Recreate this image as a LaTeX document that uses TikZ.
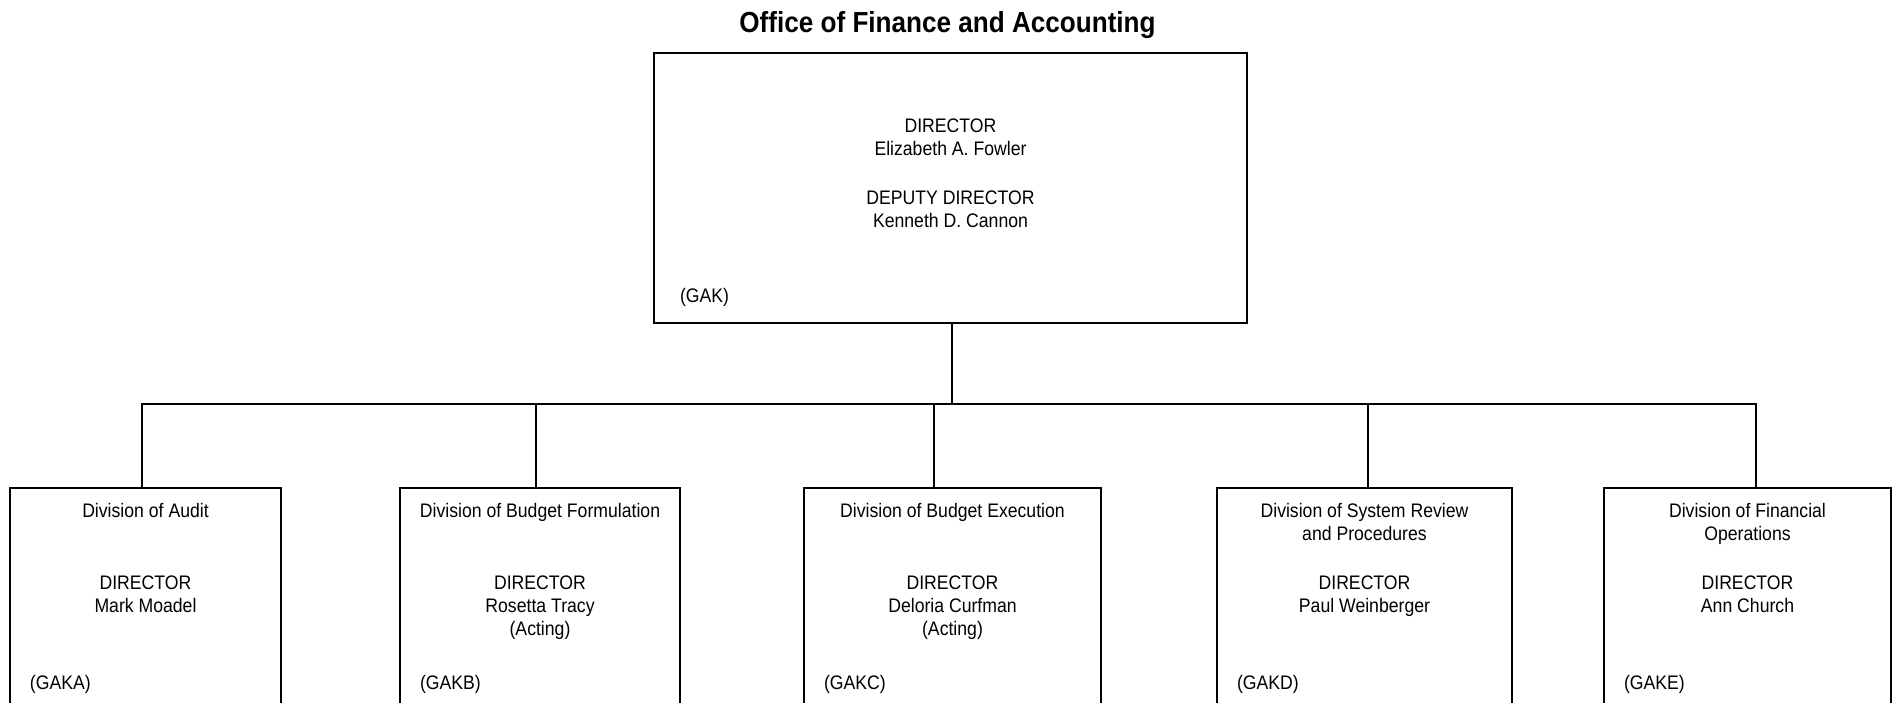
\documentclass[tikz,border=0pt]{standalone}
\usepackage{fontspec}
\setmainfont{Liberation Sans}[FakeStretch=0.9]
\usetikzlibrary{positioning,calc}

\begin{document}
\begin{tikzpicture}[
            x=0.5pt, y=0.5pt,
            every node/.style={inner sep=0pt, outer sep=0pt, font=\fontsize{9.8}{11.5}\selectfont},
            OfficeBlock/.style={draw, line width=1.1pt, minimum width=296.5pt, minimum height=135pt, anchor=north west},
            DivisionBlock/.style={draw, line width=1.1pt, minimum height=122pt, anchor=north west},
            TitleText/.style={font=\fontsize{14.5}{17}\selectfont\bfseries, anchor=base},
            HeadText/.style={align=center, anchor=north},
            CodeText/.style={anchor=base west},
            OrgLine/.style={line width=1.1pt},
            ]
            \useasboundingbox (0,0) rectangle (1897,702);

            % office
            \node [OfficeBlock] (off) at (654,649) {};
            \node [TitleText] (title) at ([xshift=-1.5pt, yshift=10pt]off.north) {Office of Finance and Accounting};
            \node [HeadText, below=33pt of off.north] (offdir) {DIRECTOR\\Elizabeth A. Fowler\\[13pt]DEPUTY DIRECTOR\\Kenneth D. Cannon};
            \node [CodeText] (offcode) at ([shift={(13pt,10pt)}]off.south west) {(GAK)};

            % divisions
            \node [DivisionBlock, minimum width=135.5pt] (divA) at (10,214) {};
            \node [DivisionBlock, minimum width=140pt] (divB) at (400,214) {};
            \node [DivisionBlock, minimum width=148.5pt] (divC) at (804,214) {};
            \node [DivisionBlock, minimum width=147.5pt] (divD) at (1217,214) {};
            \node [DivisionBlock, minimum width=143.5pt] (divE) at (1604,214) {};

            \node [HeadText, below=7.5pt of divA.north] (headA) {Division of Audit};
            \node [HeadText, below=7.5pt of divB.north] (headB) {Division of Budget Formulation};
            \node [HeadText, below=7.5pt of divC.north] (headC) {Division of Budget Execution};
            \node [HeadText, below=7.5pt of divD.north] (headD) {Division of System Review\\and Procedures};
            \node [HeadText, below=7.5pt of divE.north] (headE) {Division of Financial\\Operations};

            \node [HeadText, below=44pt of divA.north] (dirA) {DIRECTOR\\Mark Moadel};
            \node [HeadText, below=44pt of divB.north] (dirB) {DIRECTOR\\Rosetta Tracy\\(Acting)};
            \node [HeadText, below=44pt of divC.north] (dirC) {DIRECTOR\\Deloria Curfman\\(Acting)};
            \node [HeadText, below=44pt of divD.north] (dirD) {DIRECTOR\\Paul Weinberger};
            \node [HeadText, below=44pt of divE.north] (dirE) {DIRECTOR\\Ann Church};

            \node [CodeText] (codeA) at ([shift={(10pt,-101pt)}]divA.north west) {(GAKA)};
            \node [CodeText] (codeB) at ([shift={(10pt,-101pt)}]divB.north west) {(GAKB)};
            \node [CodeText] (codeC) at ([shift={(10pt,-101pt)}]divC.north west) {(GAKC)};
            \node [CodeText] (codeD) at ([shift={(10pt,-101pt)}]divD.north west) {(GAKD)};
            \node [CodeText] (codeE) at ([shift={(10pt,-101pt)}]divE.north west) {(GAKE)};

            % connectors
            \coordinate (bus) at (0,298);
            \coordinate (dropOff) at ([xshift=0.75pt]off.south);
            \coordinate (dropA) at ([xshift=-1.75pt]divA.north);
            \coordinate (dropB) at ([xshift=-2pt]divB.north);
            \coordinate (dropC) at ([xshift=-9.25pt]divC.north);
            \coordinate (dropD) at ([xshift=1.75pt]divD.north);
            \coordinate (dropE) at ([xshift=4.25pt]divE.north);

            \draw [OrgLine] (dropOff) -- (dropOff |- bus);
            \draw [OrgLine] (dropA) |- (dropE |- bus) -- (dropE);
            \draw [OrgLine] (dropB) -- (dropB |- bus);
            \draw [OrgLine] (dropC) -- (dropC |- bus);
            \draw [OrgLine] (dropD) -- (dropD |- bus);
\end{tikzpicture}
\end{document}
